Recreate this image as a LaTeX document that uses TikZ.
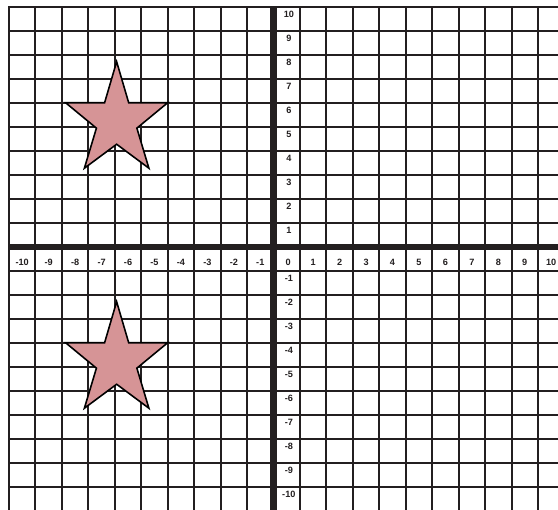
\documentclass[tikz,border=0pt]{standalone}
\usepackage{fontspec}
\setmainfont{Liberation Sans}
\definecolor{gridink}{RGB}{35,31,32}
\definecolor{starfill}{RGB}{214,148,150}
\tikzset{
  gridline/.style={draw=gridink,line width=1.1pt,line cap=rect},
  axisline/.style={draw=gridink,line width=3.4pt},
  yaxisline/.style={draw=gridink,line width=4pt},
  starshape/.style={fill=starfill,draw=black,line width=0.9pt,line join=miter},
  ticklabel/.style={font=\fontsize{5.2}{6}\selectfont\bfseries,text=gridink,inner sep=0pt,
    text height=3.8pt,text depth=0pt}
}
\begin{document}
\begin{tikzpicture}[x=0.529cm,y=0.48cm]
\useasboundingbox (-10.34,-10.958) rectangle (10.756,10.29);
\fill[white] (-10.34,-10.958) rectangle (10.756,10.29);
\clip (-10.34,-10.958) rectangle (10.756,10.29);
\foreach \i in {-10,...,11} \draw[gridline] (\i,10) -- (\i,-11.5);
\foreach \j in {-11,...,10} \draw[gridline] (-10,\j) -- (11.5,\j);
\draw[axisline] (-10,0) -- (11.5,0);
\draw[yaxisline] (0,10) -- (0,-11.5);
\foreach \k in {-10,...,-1,1,2,...,10}
  \node[ticklabel] (xl\k) at (\k+0.5,-0.62) {\k};
\foreach \k in {-10,...,-1,1,2,...,10}
  \node[ticklabel] (yl\k) at (0.58,\k-0.31) {\k};
\node[ticklabel] (zero) at (0.55,-0.62) {0};
\filldraw[starshape] (-5.93,7.72) -- (-5.475,6.01) -- (-4.0,6.01) -- (-5.165,4.95)
    -- (-4.71,3.28) -- (-5.93,4.28) -- (-7.15,3.28) -- (-6.695,4.95) -- (-7.86,6.01)
    -- (-6.385,6.01) -- cycle;
\filldraw[starshape] (-5.93,-2.28) -- (-5.475,-3.99) -- (-4.0,-3.99) -- (-5.165,-5.05)
    -- (-4.71,-6.72) -- (-5.93,-5.72) -- (-7.15,-6.72) -- (-6.695,-5.05) -- (-7.86,-3.99)
    -- (-6.385,-3.99) -- cycle;
\end{tikzpicture}
\end{document}
